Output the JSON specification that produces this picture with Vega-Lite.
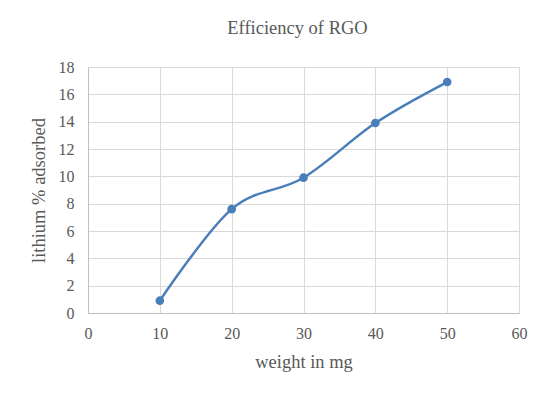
{
  "$schema": "https://vega.github.io/schema/vega-lite/v6.json",
  "autosize": {"type": "none"},
  "width": 431,
  "height": 246,
  "padding": {"left": 88, "top": 67, "right": 38, "bottom": 84},
  "background": "white",
  "title": {
    "text": "Efficiency of RGO",
    "font": "Liberation Serif",
    "fontSize": 18.5,
    "fontWeight": "normal",
    "color": "#595959",
    "anchor": "middle",
    "dx": -6,
    "offset": 22
  },
  "data": {
    "values": [
      {"weight": 10, "lithium": 0.9},
      {"weight": 20, "lithium": 7.6},
      {"weight": 30, "lithium": 9.9},
      {"weight": 40, "lithium": 13.9},
      {"weight": 50, "lithium": 16.9}
    ]
  },
  "encoding": {
    "x": {
      "field": "weight",
      "type": "quantitative",
      "scale": {"domain": [0, 60], "nice": false, "zero": true},
      "axis": {
        "title": "weight in mg",
        "values": [0, 10, 20, 30, 40, 50, 60],
        "labelOverlap": false,
        "labelFlush": false,
        "grid": true,
        "gridColor": "#d9d9d9",
        "domainColor": "#bfbfbf",
        "ticks": false,
        "labelPadding": 12,
        "labelFont": "Liberation Serif",
        "labelFontSize": 16,
        "labelColor": "#595959",
        "titleFont": "Liberation Serif",
        "titleFontSize": 18.5,
        "titleFontWeight": "normal",
        "titleColor": "#595959",
        "titlePadding": 11
      }
    },
    "y": {
      "field": "lithium",
      "type": "quantitative",
      "scale": {"domain": [0, 18], "nice": false},
      "axis": {
        "title": "lithium % adsorbed",
        "values": [0, 2, 4, 6, 8, 10, 12, 14, 16, 18],
        "labelOverlap": false,
        "labelFlush": false,
        "grid": true,
        "gridColor": "#d9d9d9",
        "domainColor": "#bfbfbf",
        "ticks": false,
        "labelPadding": 14,
        "labelFont": "Liberation Serif",
        "labelFontSize": 16,
        "labelColor": "#595959",
        "titleFont": "Liberation Serif",
        "titleFontSize": 18.5,
        "titleFontWeight": "normal",
        "titleColor": "#595959",
        "titlePadding": 10
      }
    }
  },
  "layer": [
    {
      "mark": {"type": "line", "interpolate": "cardinal", "color": "#4a7ebb", "strokeWidth": 2.5}
    },
    {
      "mark": {"type": "point", "filled": true, "shape": "circle", "size": 75, "color": "#4a7ebb", "opacity": 1}
    }
  ],
  "config": {
    "view": {"stroke": "#d9d9d9"},
    "axis": {"labelFont": "Liberation Serif", "titleFont": "Liberation Serif"}
  }
}
